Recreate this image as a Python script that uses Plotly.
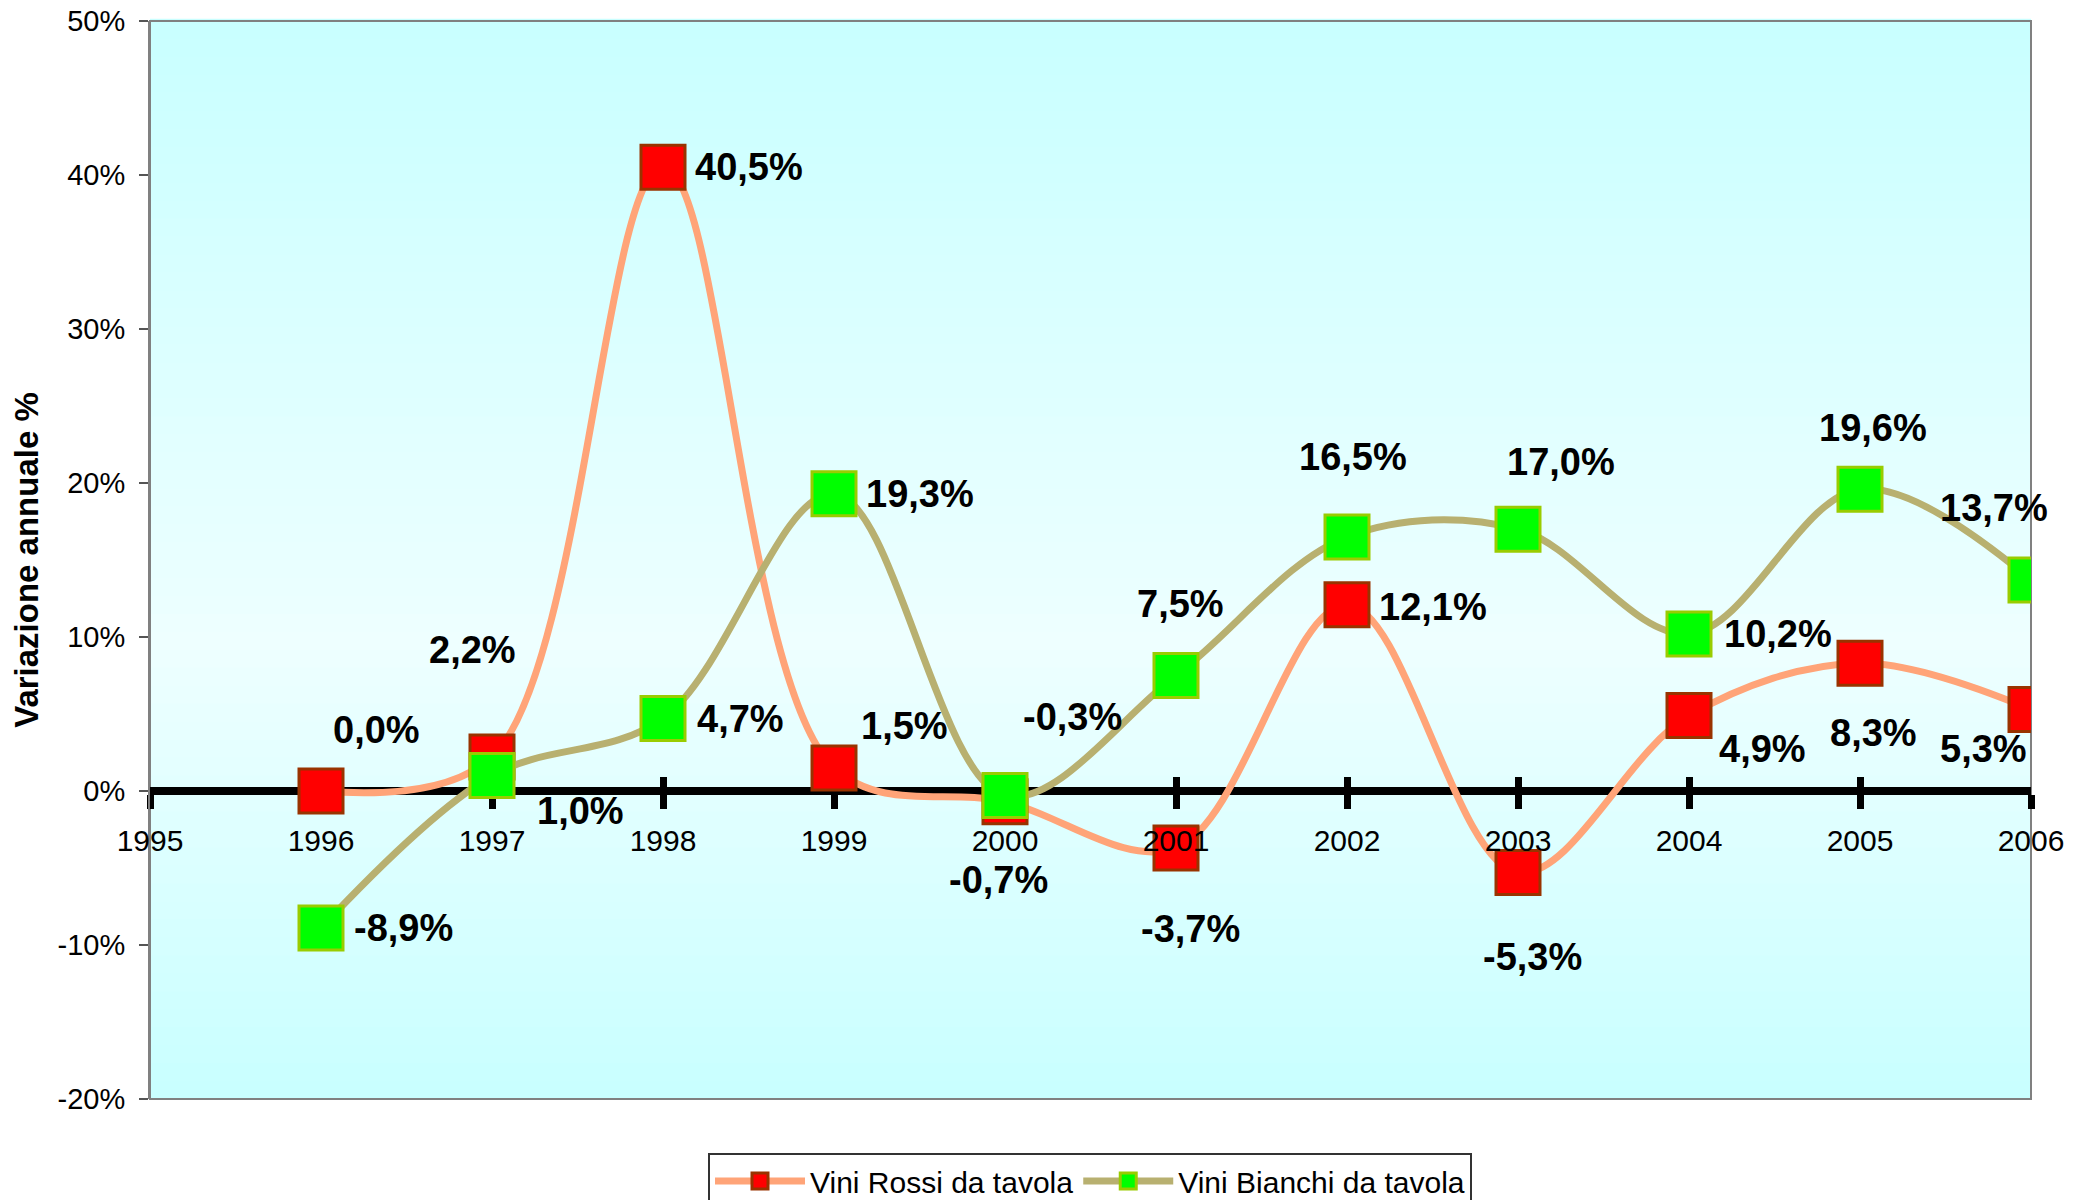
import plotly.graph_objects as go

years = [1996, 1997, 1998, 1999, 2000, 2001, 2002, 2003, 2004, 2005, 2006]
rossi = [0.0, 2.2, 40.5, 1.5, -0.7, -3.7, 12.1, -5.3, 4.9, 8.3, 5.3]
bianchi = [-8.9, 1.0, 4.7, 19.3, -0.3, 7.5, 16.5, 17.0, 10.2, 19.6, 13.7]
x_ticks = [1995, 1996, 1997, 1998, 1999, 2000, 2001, 2002, 2003, 2004, 2005, 2006]
x_ticktext = [str(v) for v in x_ticks]
y_ticks = [-20, -10, 0, 10, 20, 30, 40, 50]
y_ticktext = ["-20%", "-10%", "0%", "10%", "20%", "30%", "40%", "50%"]
series_names = ["Vini Rossi da tavola", "Vini Bianchi da tavola"]

# label offsets (pixels) relative to each point: (dx, dy)
rossi_off = [(55, 61), (-20, 107), (86, 0), (70, 42), (-7, -78), (14, -81),
             (86, -2), (14, -84), (73, -33), (13, -70), (-48, -40)]
bianchi_off = [(82, 0), (88, -35), (77, 0), (86, 0), (67, 79), (4, 72),
               (6, 80), (43, 67), (89, 0), (13, 61), (-37, 72)]


def fmt(v):
    return f"{v:.1f}%".replace(".", ",")


FONT = "Liberation Sans, Arial, sans-serif"
# page body has an 8px default margin: figure offset accounted for
W, H = 2081, 1192

fig = go.Figure()

fig.add_trace(go.Scatter(
    x=years, y=rossi, name=series_names[0], mode="lines+markers",
    line=dict(color="#FFA478", width=7, shape="spline", smoothing=1),
    marker=dict(symbol="square", size=44, color="#FF0000",
                line=dict(color="#993300", width=3)),
    hoverinfo="skip",
))
fig.add_trace(go.Scatter(
    x=years, y=bianchi, name=series_names[1], mode="lines+markers",
    line=dict(color="#B8B070", width=7, shape="spline", smoothing=1),
    marker=dict(symbol="square", size=44, color="#00FF00",
                line=dict(color="#99CC00", width=3)),
    hoverinfo="skip",
))
# helper invisible traces so that the overlay axes get drawn
for ax in ("x2", "x3"):
    fig.add_trace(go.Scatter(
        x=[x_ticks[0]], y=[0], xaxis=ax, mode="markers",
        marker=dict(opacity=0), showlegend=False, hoverinfo="skip",
    ))

annotations = []
for vals, offs in ((rossi, rossi_off), (bianchi, bianchi_off)):
    for yr, v, (dx, dy) in zip(years, vals, offs):
        annotations.append(dict(
            x=yr, y=v, xref="x", yref="y", text=fmt(v), showarrow=False,
            xshift=dx, yshift=dy,
            font=dict(family=FONT, size=38, color="black", weight="bold"),
        ))

# background gradient (cyan at edges, lighter in the middle)
shapes = []
n = 60
top = (200, 255, 255)
mid = (238, 255, 255)
midpos = 0.42
for i in range(n):
    f0 = i / n
    f1 = (i + 1) / n
    fc = (f0 + f1) / 2
    if fc >= midpos:
        t = (fc - midpos) / (1 - midpos)
    else:
        t = (midpos - fc) / midpos
    c = tuple(round(mid[k] + (top[k] - mid[k]) * t) for k in range(3))
    shapes.append(dict(type="rect", xref="paper", yref="paper",
                       x0=0, x1=1, y0=f0, y1=f1 + 0.002, layer="below",
                       line=dict(width=0), fillcolor=f"rgb{c}"))
shapes.append(dict(type="rect", xref="paper", yref="paper", x0=0, x1=1,
                   y0=0, y1=1, layer="below", line=dict(color="#808080", width=2)))

zero_pos = (0 - (-20)) / (50 - (-20))

common_x = dict(range=[1995, 2006], tickvals=x_ticks, anchor="free",
                position=zero_pos, showgrid=False, zeroline=False,
                automargin=False)

fig.update_layout(
    width=W, height=H,
    margin=dict(l=142, r=58, t=13, b=101, autoexpand=False),
    paper_bgcolor="white", plot_bgcolor="#E0FFFF",
    font=dict(family=FONT, size=30, color="black"),
    showlegend=True,
    legend=dict(orientation="h", xref="container", yref="container",
                x=1082 / W, xanchor="center", y=1 - 1145 / H, yanchor="top",
                bordercolor="#333333", borderwidth=2, bgcolor="white",
                font=dict(family=FONT, size=30), itemwidth=90,
                tracegroupgap=0),
    xaxis=dict(**common_x, showline=True, linecolor="black", linewidth=8,
               ticks="outside", ticklen=14, tickwidth=7, tickcolor="black",
               showticklabels=False, layer="below traces"),
    xaxis2=dict(**common_x, overlaying="x", showline=False,
                ticks="inside", ticklen=14, tickwidth=7, tickcolor="black",
                showticklabels=False, layer="below traces"),
    xaxis3=dict(**common_x, overlaying="x", showline=False, ticks="outside",
                ticklen=14, tickcolor="rgba(0,0,0,0)", ticktext=x_ticktext,
                showticklabels=True, ticklabelstandoff=9,
                ticklabeloverflow="allow",
                tickfont=dict(size=30, family=FONT), layer="above traces"),
    yaxis=dict(range=[-20, 50], tickvals=y_ticks, ticktext=y_ticktext,
               showline=True, linecolor="#808080", linewidth=2,
               ticks="outside", ticklen=9, tickcolor="#555555", tickwidth=2,
               showgrid=False, zeroline=False, ticklabelstandoff=8,
               automargin=False, ticklabeloverflow="allow",
               tickfont=dict(size=29, family=FONT),
               title=dict(text="Variazione annuale %", standoff=14,
                          font=dict(size=33, family=FONT, weight="bold"))),
    annotations=annotations,
    shapes=shapes,
)

fig.write_html("out.html")
